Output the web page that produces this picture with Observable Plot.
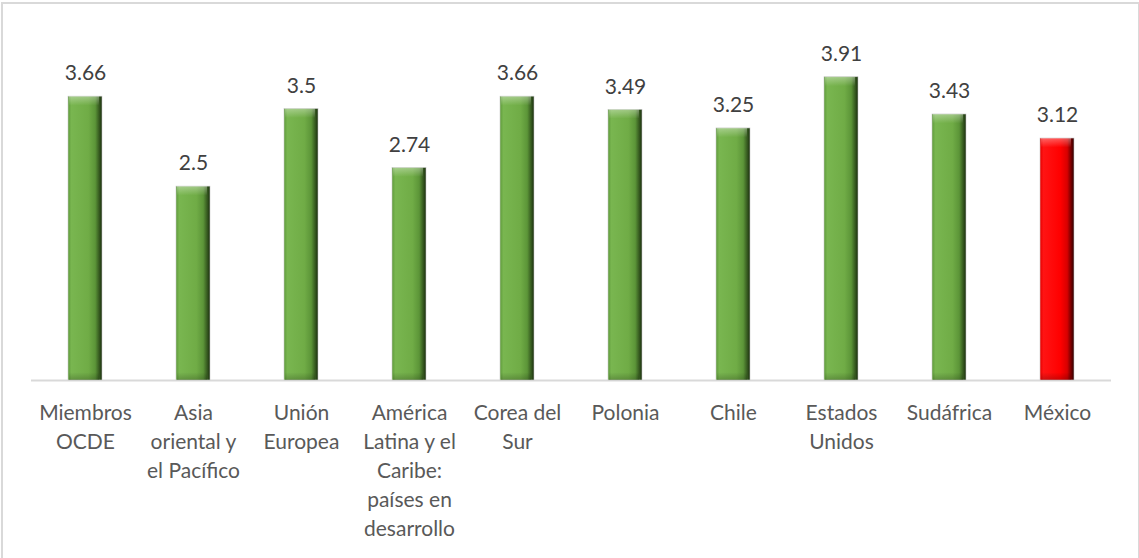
<!DOCTYPE html>
<html>
<head>
<meta charset="utf-8">
<script src="https://cdn.jsdelivr.net/npm/d3@7"></script>
<script src="https://cdn.jsdelivr.net/npm/@observablehq/plot@0.6"></script>
<style>
  html, body { margin: 0; padding: 0; background: #fff; overflow: hidden; }
  #frame { position: absolute; left: 1px; top: 2px; width: 1135px; height: 570px; border: 2px solid #d9d9d9; box-sizing: content-box; }
  #chart { position: absolute; left: 0; top: 0; }
</style>
</head>
<body>
<svg width="0" height="0" style="position:absolute">
  <defs>
    <linearGradient id="gGreen" x1="0" y1="0" x2="1" y2="0">
      <stop offset="0" stop-color="#5f9b3b"/>
      <stop offset="0.1" stop-color="#79b650"/>
      <stop offset="0.6" stop-color="#70ac46"/>
      <stop offset="0.8" stop-color="#5c9538"/>
      <stop offset="0.92" stop-color="#35581f"/>
      <stop offset="1" stop-color="#1a2e0e"/>
    </linearGradient>
    <linearGradient id="gRed" x1="0" y1="0" x2="1" y2="0">
      <stop offset="0" stop-color="#e60000"/>
      <stop offset="0.1" stop-color="#ff1414"/>
      <stop offset="0.6" stop-color="#ff0000"/>
      <stop offset="0.8" stop-color="#d80000"/>
      <stop offset="0.92" stop-color="#700000"/>
      <stop offset="1" stop-color="#2e0000"/>
    </linearGradient>
    <linearGradient id="gTop" x1="0" y1="0" x2="0" y2="1">
      <stop offset="0" stop-color="#ffffff" stop-opacity="0.35"/>
      <stop offset="1" stop-color="#ffffff" stop-opacity="0"/>
    </linearGradient>
    <linearGradient id="gBottom" x1="0" y1="0" x2="0" y2="1">
      <stop offset="0" stop-color="#000000" stop-opacity="0"/>
      <stop offset="1" stop-color="#000000" stop-opacity="0.2"/>
    </linearGradient>
  </defs>
</svg>
<div id="frame"></div>
<div id="chart"></div>
<script>
const categories = ["Miembros OCDE", "Asia oriental y el Pacífico", "Unión Europea", "América Latina y el Caribe: países en desarrollo", "Corea del Sur", "Polonia", "Chile", "Estados Unidos", "Sudáfrica", "México"];
const tickLabels = ["Miembros\nOCDE", "Asia\noriental y\nel Pacífico", "Unión\nEuropea", "América\nLatina y el\nCaribe:\npaíses en\ndesarrollo", "Corea del\nSur", "Polonia", "Chile", "Estados\nUnidos", "Sudáfrica", "México"];
const values = [3.66, 2.5, 3.5, 2.74, 3.66, 3.49, 3.25, 3.91, 3.43, 3.12];
const highlight = "México";

const data = categories.map((c, i) => ({category: c, value: values[i], label: tickLabels[i]}));
const greenData = data.filter(d => d.category !== highlight);
const redData = data.filter(d => d.category === highlight);

const chart = Plot.plot({
  width: 1139,
  height: 558,
  marginLeft: 31,
  marginRight: 28,
  marginTop: 31,
  marginBottom: 178,
  style: {fontFamily: "Lato, sans-serif", background: "transparent"},
  x: {domain: categories, paddingInner: 0.685, paddingOuter: 0.3425, axis: null},
  y: {domain: [0, 4.5], axis: null},
  marks: [
    Plot.ruleY([0], {stroke: "#d9d9d9", strokeWidth: 2}),
    Plot.barY(greenData, {x: "category", y: "value", fill: "url(#gGreen)", stroke: "#c9c9c9", strokeWidth: 0.6}),
    Plot.barY(redData, {x: "category", y: "value", fill: "url(#gRed)", stroke: "#c9c9c9", strokeWidth: 0.6}),
    Plot.barY(data, {x: "category", y1: d => d.value - 0.12, y2: "value", fill: "url(#gTop)", insetLeft: 1, insetRight: 3}),
    Plot.barY(data, {x: "category", y1: 0, y2: 0.1, fill: "url(#gBottom)", insetLeft: 1, insetRight: 3}),
    Plot.text(data, {x: "category", y: "value", text: d => String(d.value), dy: -23, fontSize: 21, fill: "#404040"}),
    Plot.text(data, {x: "category", y: () => 0, text: "label", lineAnchor: "top", dy: 19, lineHeight: 1.38, fontSize: 21, fill: "#595959"})
  ]
});
document.getElementById("chart").appendChild(chart);
</script>
</body>
</html>
